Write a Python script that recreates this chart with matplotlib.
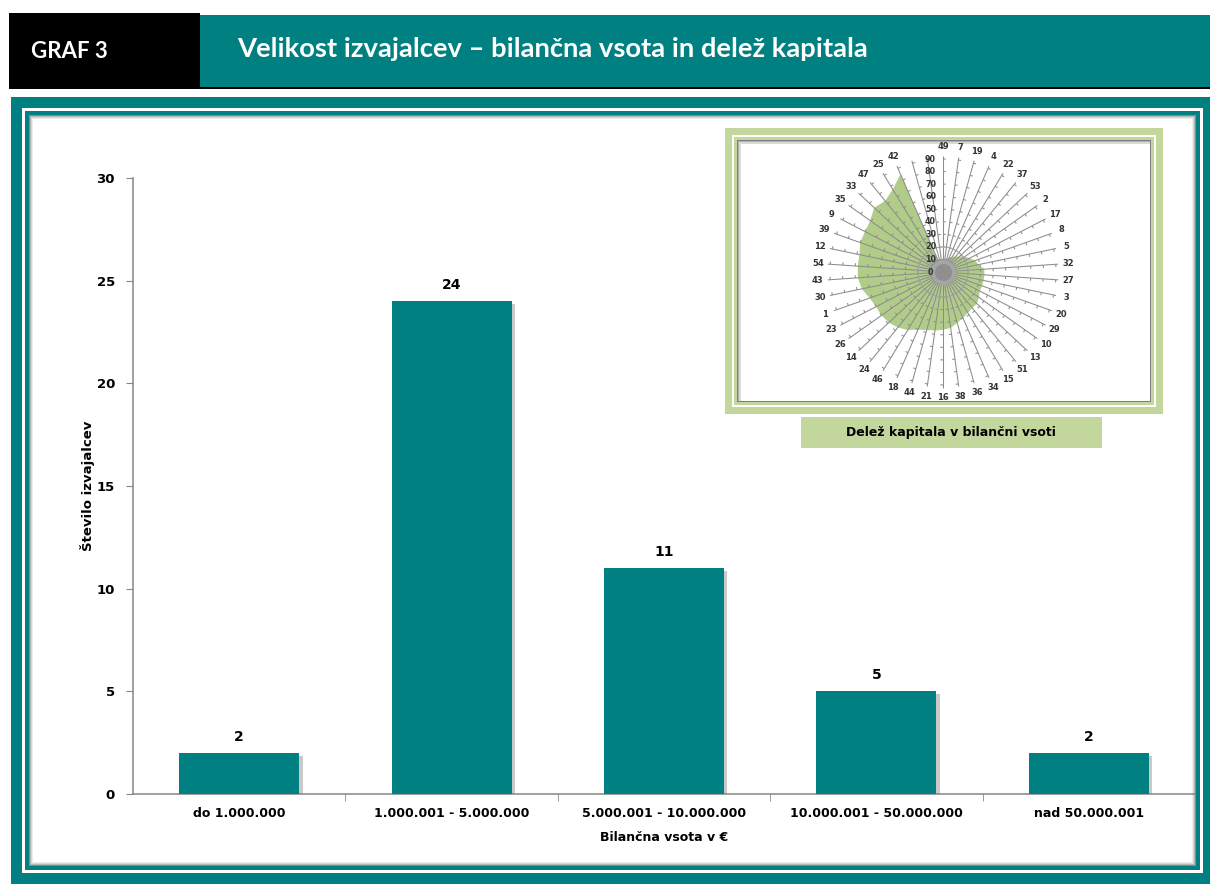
import numpy as np
import matplotlib
matplotlib.use("Agg")
import matplotlib.pyplot as plt
from matplotlib.patches import Rectangle
from matplotlib.collections import LineCollection
from matplotlib import patheffects
from matplotlib.transforms import ScaledTranslation

# ---- data ----
categories = ["do 1.000.000", "1.000.001 - 5.000.000", "5.000.001 - 10.000.000",
              "10.000.001 - 50.000.000", "nad 50.000.001"]
counts = [2, 24, 11, 5, 2]

radar_labels = ["49", "7", "19", "4", "22", "37", "53", "2", "17", "8", "5", "32",
                "27", "3", "20", "29", "10", "13", "51", "15", "34", "36", "38", "16",
                "21", "44", "18", "46", "24", "14", "26", "23", "1", "30", "43", "54",
                "12", "39", "9", "35", "33", "47", "25", "42", "", ""]
radar_share = [3, 8, 11, 13, 14, 16, 18, 21, 24, 27, 29, 33,
               33, 33, 33, 33, 35, 37, 37, 38, 40, 42, 45, 46,
               47, 48, 50, 54, 57, 59, 60, 60, 62, 66, 68, 68,
               68, 70, 70, 71, 75, 73, 77, 85, 3, 2]
radar_ticks = [0, 10, 20, 30, 40, 50, 60, 70, 80, 90]

TEAL = "#008080"
LGREEN = "#c3d69b"
FILLG = "#a9c77c"

W, H = 1210, 888
fig = plt.figure(figsize=(W / 100, H / 100), dpi=100)
fig.patch.set_facecolor("white")


def px_rect(x0, y0, x1, y1, color, z, **kw):
    r = Rectangle((x0 / W, 1 - y1 / H), (x1 - x0) / W, (y1 - y0) / H,
                  transform=fig.transFigure, facecolor=color, edgecolor="none",
                  zorder=z, **kw)
    fig.add_artist(r)
    return r


# ---- header ----
px_rect(9, 13, 200, 89, "black", -10)
px_rect(9, 87, 1210, 89, "black", -10)
px_rect(200, 15, 1210, 87, TEAL, -10)
fig.text(31 / W, 1 - 51 / H, "GRAF 3", color="white", fontsize=16,
         fontweight="bold", family="Lato", va="center", ha="left")
fig.text(237 / W, 1 - 49 / H, "Velikost izvajalcev – bilančna vsota in delež kapitala",
         color="white", fontsize=19.7, fontweight="bold", family="Lato",
         va="center", ha="left")

# ---- frame ----
px_rect(11, 97, 1210, 884, TEAL, -10)
px_rect(22, 108, 1203, 873, "white", -9)
px_rect(25, 111, 1200, 870, TEAL, -8)
px_rect(29, 115, 1196, 866, "#8a8a8a", -7)
px_rect(30, 116, 1195, 865, "#b5b5b5", -6.8)
px_rect(31, 117, 1194, 864, "#d6d6d6", -6.6)
px_rect(32, 118, 1193, 863, "#ececec", -6.4)
px_rect(33, 119, 1192, 862, "white", -6)

# ---- bar chart ----
ax = fig.add_axes([133 / W, 1 - 794 / H, (1195 - 133) / W, (794 - 178) / H])
ax.set_facecolor("none")
x = np.arange(len(categories))
bars = ax.bar(x, counts, width=0.565, color=TEAL, zorder=3)
for b in bars:
    b.set_path_effects([patheffects.SimplePatchShadow(offset=(2.5, -2), shadow_rgbFace="#7a7a7a", alpha=0.4),
                        patheffects.Normal()])
for xi, v in zip(x, counts):
    ax.text(xi, v + 0.45, str(v), ha="center", va="bottom", fontsize=10,
            fontweight="bold", color="black")
ax.set_xlim(-0.5, len(categories) - 0.5)
ax.set_ylim(0, 30)
ax.set_yticks(range(0, 31, 5))
ax.set_xticks(x)
ax.set_xticklabels(categories, fontsize=9, fontweight="bold")
ax.set_xticks(x[:-1] + 0.5, minor=True)
ax.tick_params(axis="x", which="major", length=0, pad=9)
ax.tick_params(axis="x", which="minor", length=5, color="#868686")
ax.tick_params(axis="y", length=5, color="#868686", pad=8, labelsize=9.5)
for lab in ax.get_yticklabels():
    lab.set_fontweight("bold")
for s in ["top", "right"]:
    ax.spines[s].set_visible(False)
for s in ["left", "bottom"]:
    ax.spines[s].set_color("#868686")
    ax.spines[s].set_linewidth(1.1)
ax.set_xlabel("Bilančna vsota v €", fontsize=9, fontweight="bold", labelpad=8)
ax.set_ylabel("Število izvajalcev", fontsize=9.5, fontweight="bold")
ax.yaxis.set_label_coords((95 - 133) / (1195 - 133), 0.5)

# ---- inset frame ----
px_rect(725, 128, 1163, 414, LGREEN, 1)
px_rect(732, 135, 1156, 407, "white", 1.1)
px_rect(734, 137, 1154, 405, LGREEN, 1.2)
px_rect(737, 140, 1151, 402, "#7f7f7f", 1.3)
px_rect(738, 141, 1150, 401, "#b0b0b0", 1.4)
px_rect(739, 142, 1150, 401, "#dadada", 1.45)
px_rect(741, 144, 1150, 401, "white", 1.5)
px_rect(801, 417, 1102, 448, LGREEN, 1)
fig.text(951 / W, 1 - 432 / H, "Delež kapitala v bilančni vsoti", ha="center",
         va="center", fontsize=9, fontweight="bold", zorder=2)

# ---- radar inset ----
rmax = 105
rad_px = 113 * rmax / 90
cx, cy = 943, 272
pax = fig.add_axes([(cx - rad_px) / W, 1 - (cy + rad_px) / H, 2 * rad_px / W, 2 * rad_px / H],
                   projection="polar", zorder=3)
pax.set_facecolor("none")
pax.set_theta_zero_location("N")
pax.set_theta_direction(-1)
pax.set_ylim(0, rmax)
pax.set_axis_off()

n = len(radar_labels)
theta = np.arange(n) * 2 * np.pi / n
tc = np.append(theta, theta[0])
vc = np.append(radar_share, radar_share[0])
pax.fill(tc, vc, color=FILLG, alpha=0.9, zorder=1, lw=0)

segs = []
for t in theta:
    segs.append([(t, 0), (t, 92)])
    for r in radar_ticks[1:]:
        segs.append([(t, r), (t + 2.2 / r, r)])
pax.add_collection(LineCollection(segs, colors="#8c8c8c", linewidths=0.75, zorder=2))
pax.scatter([0], [0], s=330, color="#a5a5a5", zorder=3, lw=0)
pax.scatter([0], [0], s=150, color="#8f8f8f", zorder=3, lw=0)
circ = np.linspace(0, 2 * np.pi, 200)
pax.plot(circ, np.full_like(circ, 20), color="#a8a8a8", lw=0.6, zorder=2)

for t, lab in zip(theta, radar_labels):
    pax.text(t, 100, lab, ha="center", va="center", fontsize=6,
             fontweight="bold", color="#333333", zorder=4)
off = ScaledTranslation(-9 / 72, 0, fig.dpi_scale_trans)
for r in radar_ticks:
    pax.text(0, r, str(r), ha="center", va="center", fontsize=5.8,
             fontweight="bold", color="#333333", transform=pax.transData + off, zorder=4)

fig.savefig("out.png", dpi=100)
